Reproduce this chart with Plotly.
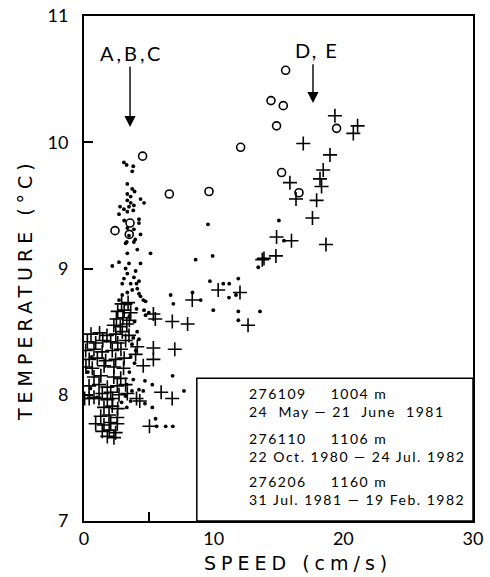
import plotly.graph_objects as go

# Mooring 276109 (1004 m) - open circles
circ_speed = [4.52, 6.58, 9.64, 12.08, 2.39, 3.55, 3.49, 15.55, 14.42, 15.37, 14.85, 19.48, 15.24, 16.58]
circ_temp = [9.89, 9.59, 9.61, 9.96, 9.30, 9.36, 9.27, 10.57, 10.33, 10.29, 10.13, 10.11, 9.76, 9.60]

# Mooring 276110 (1106 m) - plus signs
plus_speed = [
    19.35, 21.1, 20.77, 16.91, 18.97, 18.45, 18.2, 18.32, 15.88, 17.94, 16.35, 17.62, 18.66,
    14.85, 16.0, 13.88, 13.75, 14.8,
    10.35, 12.03, 8.35, 6.81, 7.99, 12.65, 5.35, 5.5, 5.35, 7.0, 5.35, 4.57, 4.11, 3.98,
    5.95, 6.8, 4.05, 5.05, 4.3,
    2.9, 3.4, 2.6, 3.1, 3.6, 2.5, 3.0, 3.5, 2.3, 2.8, 3.3,
    0.54, 1.2, 1.77, 2.45, 2.95, 3.47,
    0.26, 0.9, 1.45, 2.06, 2.6, 3.21,
    0.13, 0.77, 1.4, 2.18, 2.85,
    0.4, 1.03, 1.67, 2.44, 3.1,
    0.15, 0.64, 1.55, 2.31, 3.05,
    0.77, 1.3, 2.3, 2.83,
    0.39, 1.16, 1.8, 2.57, 3.21,
    1.41, 2.06, 2.7, 3.34,
    0.05, 0.4, 0.77, 1.16, 1.8, 2.2,
    1.54, 2.18, 2.6,
    1.29, 1.93, 2.57,
    0.9, 1.54, 2.06, 2.57,
    1.41, 1.95, 2.44,
    1.8, 2.31,
]
plus_temp = [
    10.21, 10.13, 10.07, 9.99, 9.90, 9.78, 9.71, 9.65, 9.68, 9.54, 9.55, 9.40, 9.19,
    9.25, 9.22, 9.08, 9.07, 9.10,
    8.83, 8.81, 8.75, 8.58, 8.56, 8.55, 8.64, 8.60, 8.37, 8.36, 8.28, 8.23, 8.38, 8.32,
    8.02, 7.97, 7.97, 7.75, 7.95,
    8.72, 8.73, 8.66, 8.67, 8.65, 8.60, 8.61, 8.59, 8.55, 8.54, 8.56,
    8.48, 8.49, 8.47, 8.48, 8.50, 8.47,
    8.42, 8.41, 8.43, 8.42, 8.41, 8.43,
    8.35, 8.36, 8.34, 8.35, 8.36,
    8.28, 8.29, 8.27, 8.28, 8.29,
    8.22, 8.21, 8.23, 8.22, 8.21,
    8.14, 8.15, 8.14, 8.13,
    8.07, 8.08, 8.06, 8.07, 8.08,
    8.01, 8.02, 8.00, 8.01,
    7.97, 7.97, 7.98, 7.97, 7.96, 7.97,
    7.90, 7.91, 7.89,
    7.83, 7.84, 7.82,
    7.77, 7.76, 7.78, 7.77,
    7.71, 7.72, 7.70,
    7.67, 7.66,
]

# Mooring 276206 (1160 m) - small dots
dot_speed = [
    3.08, 3.29, 3.80, 3.72, 3.34, 3.72, 3.9, 3.34, 3.6, 4.36, 4.63, 3.34, 3.6, 2.78, 3.08,
    3.47, 3.85, 2.7, 3.34, 3.80, 4.24, 4.24, 3.34, 3.85, 4.36, 3.47, 3.1, 3.95, 3.3,
    3.21, 3.85, 3.34, 4.11, 5.13, 2.18, 2.7, 3.47, 4.36, 3.21, 3.98, 3.34, 3.85, 3.08,
    4.24, 3.6, 4.05, 2.95, 4.11, 3.72, 3.34, 4.24, 2.95, 4.36, 4.75, 2.7, 3.21, 3.6,
    4.63, 5.0, 4.75, 4.57, 4.05,
    8.61, 9.92, 9.71, 10.74, 11.2, 11.9, 11.18, 11.72, 6.68, 6.89, 8.37, 9.0, 9.97,
    11.9, 11.9, 9.56, 13.57, 15.03, 15.42, 13.44,
    3.8, 4.24, 4.7, 5.27, 4.24, 4.57, 4.70, 5.27, 5.52, 5.6, 6.3, 6.85, 6.83, 7.71,
    3.5, 3.9, 4.1, 3.7, 4.0, 3.6, 3.9, 3.5, 3.8, 3.3, 3.7, 3.2, 3.6, 0.6, 0.3, 0.5,
    2.9, 3.3, 1.0,
]
dot_temp = [
    9.84, 9.82, 9.81, 9.77, 9.67, 9.63, 9.61, 9.59, 9.57, 9.55, 9.52, 9.54, 9.52, 9.49, 9.47,
    9.49, 9.50, 9.43, 9.45, 9.46, 9.39, 9.36, 9.32, 9.31, 9.27, 9.26, 9.38, 9.23, 9.21,
    9.20, 9.21, 9.12, 9.15, 9.12, 9.02, 9.05, 9.04, 9.04, 9.00, 8.98, 8.96, 8.93, 8.92,
    8.90, 8.88, 8.88, 8.88, 8.84, 8.83, 8.81, 8.80, 8.79, 8.78, 8.74, 8.75, 8.72, 8.72,
    8.67, 8.65, 8.63, 8.75, 8.68,
    9.07, 9.10, 8.90, 8.88, 8.88, 8.92, 8.77, 8.79, 8.79, 8.72, 8.81, 8.75, 8.67,
    8.66, 8.59, 9.35, 8.66, 9.38, 9.22, 9.01,
    8.45, 8.44, 8.11, 8.08, 8.04, 8.03, 7.93, 7.90, 7.81, 7.75, 7.75, 7.75, 8.15, 8.03,
    8.62, 8.58, 8.50, 8.40, 8.35, 8.30, 8.25, 8.18, 8.12, 8.08, 8.03, 7.99, 7.95, 8.30, 8.18, 8.05,
    7.94, 7.90, 7.98,
]

x_ticks = [0, 5, 10, 15, 20, 25, 30]
x_ticktext = ["0", "", "10", "", "20", "", "30"]
y_ticks = [7, 8, 9, 10, 11]
y_ticktext = ["7", "8", "9", "10", "11"]

legend_rows = [
    ("276109", "1004 m", "24  May \u2014 21  June  1981"),
    ("276110", "1106 m", "22 Oct. 1980 \u2014 24 Jul. 1982"),
    ("276206", "1160 m", "31 Jul. 1981 \u2014 19 Feb. 1982"),
]

FONT = "Lato, 'DejaVu Sans', sans-serif"
WIDE = "'DejaVu Sans', Lato, sans-serif"
INK = "black"

W, H = 490, 577
L, R, T, B = 84, 17, 16, 56
pw, ph = W - L - R, H - T - B


def spaced(text, px):
    return f'<span style="letter-spacing:{px}px">{text}</span>'


fig = go.Figure()

fig.add_trace(go.Scatter(
    x=dot_speed, y=dot_temp, mode="markers",
    marker=dict(symbol="circle", size=3.8, color=INK, line=dict(width=0)),
    showlegend=False, hoverinfo="skip"))
fig.add_trace(go.Scatter(
    x=plus_speed, y=plus_temp, mode="markers",
    marker=dict(symbol="cross-thin-open", size=10, color=INK, line=dict(width=1.6, color=INK)),
    showlegend=False, hoverinfo="skip"))
fig.add_trace(go.Scatter(
    x=circ_speed, y=circ_temp, mode="markers",
    marker=dict(symbol="circle-open", size=8, color=INK, line=dict(width=1.6, color=INK)),
    showlegend=False, hoverinfo="skip"))

# key box in the lower right corner
key_x0, key_y1 = 8.7, 8.13
fig.add_shape(type="rect", xref="x", yref="y", x0=key_x0, x1=30, y0=7, y1=key_y1,
              line=dict(color=INK, width=1.5), fillcolor="white", layer="above")

key_sym_x = 10.25
key_sym_y = [7.94, 7.58, 7.24]
key_symbols = [
    dict(symbol="circle-open", size=11, color=INK, line=dict(width=1.8, color=INK)),
    dict(symbol="cross-thin-open", size=12, color=INK, line=dict(width=1.8, color=INK)),
    dict(symbol="circle", size=6, color=INK, line=dict(width=0)),
]
for yy, mk in zip(key_sym_y, key_symbols):
    fig.add_trace(go.Scatter(x=[key_sym_x], y=[yy], mode="markers", marker=mk,
                             showlegend=False, hoverinfo="skip", cliponaxis=False))

# each key entry is one two-line text block, mooring + depth on top, period below
key_font = dict(size=14, family=FONT, color=INK)
annotations = []
for (mid, depth, period), yc in zip(legend_rows, key_sym_y):
    top = mid + "\u2003\u2003" + depth
    block = spaced(top, 1.5) + "<br>" + spaced(period, 1.5)
    annotations.append(dict(x=12.55, y=yc, xref="x", yref="y", text=block, showarrow=False,
                            xanchor="left", yanchor="middle", align="left", font=key_font))

# event arrows
annotations.append(dict(x=3.55, y=10.12, ax=3.55, ay=10.61, xref="x", yref="y", axref="x", ayref="y",
                        text="", showarrow=True, arrowhead=2, arrowsize=1.6, arrowwidth=1.4,
                        arrowcolor=INK))
annotations.append(dict(x=3.65, y=10.71, xref="x", yref="y", text=spaced("A,B,C", 3), showarrow=False,
                        xanchor="center", yanchor="middle", font=dict(size=20, family=FONT, color=INK)))
annotations.append(dict(x=17.66, y=10.31, ax=17.66, ay=10.63, xref="x", yref="y", axref="x", ayref="y",
                        text="", showarrow=True, arrowhead=2, arrowsize=1.6, arrowwidth=1.4,
                        arrowcolor=INK))
annotations.append(dict(x=18.0, y=10.73, xref="x", yref="y", text=spaced("D, E", 2), showarrow=False,
                        xanchor="center", yanchor="middle", font=dict(size=20, family=FONT, color=INK)))


# axis titles, placed by pixel position
def px_to_paper(px, py):
    return (px - L) / pw, 1 - (py - T) / ph


sx, sy = px_to_paper(298, 563)
annotations.append(dict(x=sx, y=sy, xref="paper", yref="paper", text=spaced("SPEED (cm/s)", 5),
                        showarrow=False, xanchor="center", yanchor="middle",
                        font=dict(size=19, family=WIDE, color=INK)))
tx, ty = px_to_paper(25, 290)
annotations.append(dict(x=tx, y=ty, xref="paper", yref="paper", text=spaced("TEMPERATURE (\u00b0C)", 5),
                        showarrow=False, textangle=-90, xanchor="center", yanchor="middle",
                        font=dict(size=19, family=WIDE, color=INK)))

fig.update_layout(
    width=W, height=H,
    margin=dict(l=L, r=R, t=T, b=B),
    paper_bgcolor="white", plot_bgcolor="white",
    font=dict(family=FONT, color=INK, size=18),
    annotations=annotations,
    showlegend=False,
)
fig.update_xaxes(range=[0, 30], tickvals=x_ticks, ticktext=x_ticktext, ticks="inside", ticklen=9,
                 tickwidth=1.5, tickcolor=INK, showline=True, linewidth=2, linecolor=INK, mirror=True,
                 showgrid=False, zeroline=False, tickfont=dict(size=18), ticklabelstandoff=0,
                 automargin=False)
fig.update_yaxes(range=[7, 11], tickvals=y_ticks, ticktext=y_ticktext, ticks="inside", ticklen=9,
                 tickwidth=1.5, tickcolor=INK, showline=True, linewidth=2, linecolor=INK, mirror=True,
                 showgrid=False, zeroline=False, tickfont=dict(size=18), ticklabelstandoff=10,
                 automargin=False)

fig.write_html("out.html")
